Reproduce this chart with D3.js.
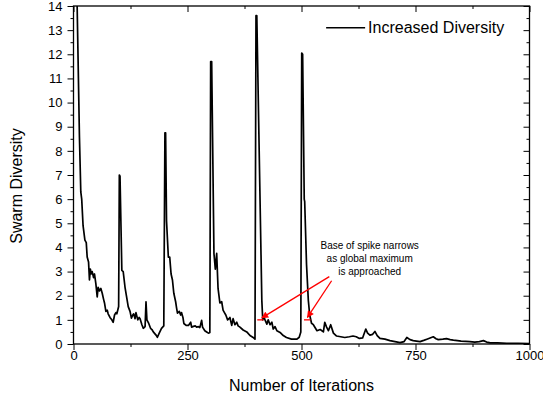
<!DOCTYPE html>
<html>
<head>
<meta charset="utf-8">
<script src="https://cdn.jsdelivr.net/npm/d3@7"></script>
<style>
    body { margin: 0; background: #fff; }
    text { font-family: "Liberation Sans", Arial, sans-serif; fill: #000; }
</style>
</head>
<body>
<svg id="chart"></svg>
<script>
let iterations = [
    0, 8, 13, 16, 18, 21, 25, 28, 30, 33, 35, 37, 39, 41, 44, 46, 49, 52, 54, 57,
    60, 63, 66, 68, 71, 74, 76, 80, 84, 87, 90, 93, 95, 97, 99, 100.5, 102, 106, 109, 113,
    116, 120, 124, 127, 130, 132, 135, 137, 141, 144, 146, 150, 153, 157, 159, 161, 165, 169, 172, 175,
    181, 184, 188, 193, 198, 200.5, 202, 204, 208, 211, 214, 217, 220, 224, 226, 228, 232, 235, 237, 240,
    242, 247, 252, 257, 259, 263, 267, 270, 274, 277, 281, 283, 288, 292, 296, 299, 300.8, 303, 308, 311,
    314, 317, 321, 325, 328, 331, 334, 338, 341, 343, 347, 350, 354, 358, 361, 365, 372, 380, 387, 394,
    398, 400.2, 402, 413, 415, 418, 420, 424, 427, 431, 435, 438, 442, 446, 453, 460, 467, 478, 490, 495,
    498.5, 500.5, 502.5, 506, 507, 511, 515, 518, 522, 526, 534, 541, 548, 551, 555, 559, 564, 570, 577, 586,
    595, 605, 613, 620, 627, 634, 641, 645, 650, 656, 661, 666, 672, 683, 694, 705, 716, 725, 731, 738,
    745, 752, 760, 768, 775, 782, 789, 795, 800, 810, 818, 826, 833, 842, 850, 860, 869, 880, 890, 899,
    906, 914, 930, 950, 975, 1000
]
let diversity = [
    17, 14, 8.6, 6.3, 6.0, 4.9, 4.3, 4.2, 3.6, 3.4, 2.65, 3.1, 2.9, 3.0, 2.75, 2.9, 2.5, 1.95, 2.35, 2.2,
    2.3, 2.1, 1.85, 1.7, 1.35, 1.4, 1.25, 1.1, 1.0, 0.9, 1.2, 1.3, 1.25, 1.4, 1.55, 7.0, 6.95, 3.05, 3.0, 2.35,
    2.0, 1.55, 1.35, 1.07, 1.2, 1.25, 1.05, 1.3, 1.0, 1.1, 1.05, 0.8, 0.65, 0.72, 1.75, 1.0, 0.85, 0.65, 0.6, 0.5,
    0.37, 0.28, 0.45, 0.65, 0.75, 8.75, 8.75, 5.1, 3.6, 3.6, 2.9, 2.65, 2.1, 1.75, 1.5, 1.28, 1.35, 1.2, 1.3, 1.1,
    0.85, 0.77, 0.77, 0.9, 0.7, 0.73, 0.75, 0.7, 0.72, 0.68, 0.98, 0.7, 0.55, 0.5, 0.45, 0.48, 11.7, 11.7, 3.75, 3.1,
    3.75, 2.3, 1.7, 1.75, 1.4, 1.3, 1.2, 1.0, 1.05, 1.1, 0.77, 1.05, 0.8, 0.9, 0.75, 0.7, 0.58, 0.5, 0.35, 0.27,
    0.2, 13.6, 13.6, 1.8, 1.0, 1.1, 1.0, 0.82, 1.0, 0.8, 0.9, 0.62, 0.72, 0.55, 0.48, 0.35, 0.27, 0.2, 0.2, 0.28,
    0.5, 12.05, 12.0, 6.0, 5.9, 3.3, 1.8, 1.2, 0.86, 0.8, 0.55, 0.6, 0.5, 0.9, 0.7, 0.55, 0.8, 0.45, 0.33, 0.3,
    0.27, 0.3, 0.33, 0.3, 0.23, 0.25, 0.62, 0.45, 0.37, 0.4, 0.52, 0.35, 0.23, 0.2, 0.14, 0.1, 0.06, 0.1, 0.27, 0.18,
    0.14, 0.12, 0.1, 0.15, 0.2, 0.25, 0.3, 0.22, 0.18, 0.2, 0.22, 0.18, 0.16, 0.14, 0.12, 0.11, 0.1, 0.08, 0.1, 0.14,
    0.08, 0.05, 0.05, 0.03, 0.03, 0.02
]
let xTicks = [0, 250, 500, 750, 1000]
let yTicks = [0, 1, 2, 3, 4, 5, 6, 7, 8, 9, 10, 11, 12, 13, 14]
let seriesName = 'Increased Diversity'
let noteLines = ['Base of spike narrows', 'as global maximum', 'is approached']
// spike base markers at diversity = 1, and arrows pointing at them
let baseMarks = [[403, 417], [505.5, 520]]
let arrows = [[[561, 2.79], [413, 1.08]], [[566, 2.62], [513, 1.1]]]

let width = 543,
    height = 402,
    margin = {left: 73.5, right: 13.5, top: 6, bottom: 58}

let $svg = d3.select('#chart')
    .attr('width', width)
    .attr('height', height)

let xScale = d3.scaleLinear()
    .domain([0, 1000])
    .range([margin.left, width - margin.right])

let yScale = d3.scaleLinear()
    .domain([0, 14])
    .range([height - margin.bottom, margin.top])

let x0 = xScale.range()[0], x1 = xScale.range()[1],
    y0 = yScale.range()[0], y1 = yScale.range()[1]

let xMinor = d3.range(125, 1000, 250),
    yMinor = d3.range(0.5, 14, 1)

$svg.append('defs').append('clipPath').attr('id', 'plotClip')
    .append('rect')
    .attr('x', x0).attr('y', y1)
    .attr('width', x1 - x0).attr('height', y0 - y1)

function styleAxis(g) {
    g.select('.domain').remove()
    g.selectAll('line').attr('stroke', '#000').attr('stroke-width', 1)
    g.selectAll('text').style('font-size', '13px').attr('fill', '#000')
}

// bottom + left, ticks pointing out
$svg.append('g')
    .attr('transform', `translate(0,${y0})`)
    .call(d3.axisBottom(xScale).tickValues(xTicks).tickSize(6).tickPadding(1).tickFormat(d3.format('d')))
    .call(styleAxis)
$svg.append('g')
    .attr('transform', `translate(0,${y0})`)
    .call(d3.axisBottom(xScale).tickValues(xMinor).tickSize(3).tickFormat(''))
    .call(styleAxis)
$svg.append('g')
    .attr('transform', `translate(${x0},0)`)
    .call(d3.axisLeft(yScale).tickValues(yTicks).tickSize(6).tickPadding(5).tickFormat(d3.format('d')))
    .call(styleAxis)
$svg.append('g')
    .attr('transform', `translate(${x0},0)`)
    .call(d3.axisLeft(yScale).tickValues(yMinor).tickSize(3).tickFormat(''))
    .call(styleAxis)

// top + right, ticks pointing in
$svg.append('g')
    .attr('transform', `translate(0,${y1})`)
    .call(d3.axisTop(xScale).tickValues(xTicks).tickSize(-6).tickFormat(''))
    .call(styleAxis)
$svg.append('g')
    .attr('transform', `translate(0,${y1})`)
    .call(d3.axisTop(xScale).tickValues(xMinor).tickSize(-3).tickFormat(''))
    .call(styleAxis)
$svg.append('g')
    .attr('transform', `translate(${x1},0)`)
    .call(d3.axisRight(yScale).tickValues(yTicks).tickSize(-6).tickFormat(''))
    .call(styleAxis)
$svg.append('g')
    .attr('transform', `translate(${x1},0)`)
    .call(d3.axisRight(yScale).tickValues(yMinor).tickSize(-3).tickFormat(''))
    .call(styleAxis)

$svg.append('rect')
    .attr('x', x0).attr('y', y1)
    .attr('width', x1 - x0).attr('height', y0 - y1)
    .attr('fill', 'none')
    .attr('stroke', '#000')
    .attr('stroke-width', 1.3)

let data = iterations.map((it, i) => ({x: it, y: diversity[i]}))

let lineFunction = d3.line()
    .x(d => xScale(d.x))
    .y(d => yScale(d.y))

$svg.append('path')
    .attr('d', lineFunction(data))
    .attr('clip-path', 'url(#plotClip)')
    .attr('fill', 'none')
    .attr('stroke', '#000')
    .attr('stroke-width', 1.7)
    .attr('stroke-linejoin', 'round')

// axis titles
$svg.append('text')
    .attr('x', (x0 + x1) / 2)
    .attr('y', 391)
    .attr('text-anchor', 'middle')
    .style('font-size', '16px')
    .text('Number of Iterations')
$svg.append('text')
    .attr('transform', 'translate(22,186) rotate(-90)')
    .attr('text-anchor', 'middle')
    .style('font-size', '16px')
    .text('Swarm Diversity')

// legend
let $legend = $svg.append('g').attr('transform', `translate(${xScale(554)},${yScale(13.1)})`)
$legend.append('line')
    .attr('x1', 0).attr('x2', 39)
    .attr('stroke', '#000').attr('stroke-width', 1.5)
$legend.append('text')
    .attr('x', 42).attr('y', 5.5)
    .style('font-size', '16px')
    .text(seriesName)

// annotation
let $note = $svg.append('g')
$svg.append('defs').append('marker')
    .attr('id', 'redArrow')
    .attr('viewBox', '0 0 10 10')
    .attr('refX', 9).attr('refY', 5)
    .attr('markerWidth', 9).attr('markerHeight', 7)
    .attr('markerUnits', 'userSpaceOnUse')
    .attr('orient', 'auto')
    .append('path')
    .attr('d', 'M0,0L10,5L0,10z')
    .attr('fill', '#f00')

$note.selectAll('text').data(noteLines).enter().append('text')
    .attr('x', xScale(649.5))
    .attr('y', (d, i) => yScale(3.93) + i * 13)
    .attr('text-anchor', 'middle')
    .style('font-size', '10px')
    .attr('fill', '#222')
    .text(d => d)

$note.selectAll('line.base').data(baseMarks).enter().append('line')
    .attr('class', 'base')
    .attr('x1', d => xScale(d[0])).attr('x2', d => xScale(d[1]))
    .attr('y1', yScale(1)).attr('y2', yScale(1))
    .attr('stroke', '#f00').attr('stroke-width', 1.3)

$note.selectAll('line.arrow').data(arrows).enter().append('line')
    .attr('class', 'arrow')
    .attr('x1', d => xScale(d[0][0])).attr('y1', d => yScale(d[0][1]))
    .attr('x2', d => xScale(d[1][0])).attr('y2', d => yScale(d[1][1]))
    .attr('stroke', '#f00').attr('stroke-width', 1.3)
    .attr('marker-end', 'url(#redArrow)')
</script>
</body>
</html>
